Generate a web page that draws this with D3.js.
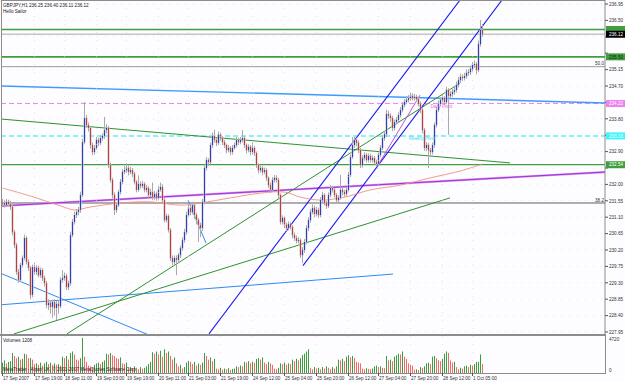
<!DOCTYPE html>
<html>
<head>
<meta charset="utf-8">
<script src="https://cdnjs.cloudflare.com/ajax/libs/d3/7.8.5/d3.min.js"></script>
<style>
  body { margin: 0; background: #fff; }
  svg { display: block; }
  text { font-family: 'Liberation Sans', Arial, sans-serif; }
</style>
</head>
<body>
<svg id="chart" width="625" height="382"></svg>
<script>
// GBPJPY H1, 17 Sep 2007 .. 1 Oct 2007
const firstOpen = 231.50;
const closes = [
  231.49,231.43,231.52,231.46,231.38,230.69,230.34,229.60,229.38,229.79,
  229.98,230.53,229.87,229.71,228.97,229.73,229.60,229.71,229.51,229.65,
  229.43,229.29,228.69,228.75,228.64,228.77,228.61,228.72,228.66,229.38,
  229.43,229.49,229.18,229.29,230.61,230.97,231.16,231.24,231.30,231.71,
  233.16,233.82,233.63,233.55,233.08,232.89,233.00,233.22,233.14,233.27,
  233.33,233.49,233.55,232.53,232.12,231.71,231.30,231.43,231.79,232.07,
  232.34,232.39,232.45,232.34,232.39,232.29,232.07,231.85,232.01,231.96,
  232.01,231.85,231.90,231.71,231.79,231.65,231.74,231.63,231.85,231.93,
  231.57,231.02,231.13,230.75,229.98,229.87,229.98,229.93,230.06,230.25,
  230.47,230.69,231.16,231.35,231.24,231.43,231.16,231.02,230.89,230.80,
  231.52,232.45,232.67,232.61,233.08,233.33,233.22,233.14,233.36,233.27,
  233.16,233.08,232.94,233.00,232.89,233.00,233.08,233.22,233.16,233.22,
  233.27,233.08,232.94,233.03,232.89,233.00,232.86,232.53,232.39,232.45,
  232.34,232.39,232.18,231.98,231.85,232.12,232.18,232.12,231.71,230.97,
  231.08,230.89,230.80,230.91,230.83,230.61,230.53,230.45,230.47,230.06,
  230.20,230.42,230.80,231.02,231.24,231.35,231.19,231.30,231.16,231.57,
  231.71,231.49,231.41,231.71,231.90,231.85,231.71,231.57,231.63,231.85,
  231.79,231.74,231.85,232.26,232.75,233.08,233.22,233.14,232.94,232.53,
  232.72,232.81,232.67,232.78,232.67,232.72,232.61,232.56,232.81,233.00,
  233.27,233.38,233.93,233.88,233.82,233.55,233.71,233.77,233.90,234.04,
  234.18,234.26,234.32,234.37,234.43,234.37,234.40,234.34,234.21,234.04,
  233.49,233.00,233.08,232.94,232.89,233.08,233.63,234.04,234.21,234.32,
  234.37,234.26,234.59,234.43,234.48,234.54,234.59,234.73,234.86,234.95,
  234.92,234.97,235.06,235.08,235.17,235.28,235.30,235.14,235.85,236.24,
  236.12
];
const highs = [
  231.60,231.56,231.60,231.58,231.55,231.45,230.75,230.40,229.68,229.85,
  230.05,230.62,230.58,229.95,229.76,229.80,229.85,229.78,229.77,229.72,
  229.70,229.50,229.35,228.85,228.82,228.84,228.85,228.80,228.80,229.45,
  229.65,229.58,229.55,229.36,230.70,231.05,231.25,231.32,231.38,231.80,
  233.25,234.26,233.90,233.70,233.60,233.15,233.08,233.30,233.28,233.35,
  233.40,233.85,233.65,233.60,232.60,232.18,231.78,231.50,231.85,232.15,
  232.42,232.50,232.58,232.52,232.48,232.45,232.35,232.12,232.25,232.08,
  232.10,232.06,231.98,231.95,231.88,232.05,231.82,231.80,231.95,232.05,
  232.00,231.62,231.20,231.18,230.80,230.05,230.05,230.05,230.12,230.32,
  230.55,230.78,231.25,231.45,231.42,231.52,231.48,231.22,231.08,230.95,
  231.60,232.52,232.75,232.72,233.15,233.42,233.50,233.28,233.45,233.42,
  233.32,233.22,233.12,233.08,233.05,233.08,233.15,233.30,233.28,233.30,
  233.49,233.32,233.12,233.10,233.08,233.15,233.05,232.90,232.58,232.52,
  232.50,232.46,232.44,232.22,232.05,232.20,232.26,232.25,232.18,231.75,
  231.15,231.12,230.95,230.98,230.96,230.88,230.68,230.60,230.55,230.52,
  230.28,230.50,230.88,231.10,231.32,231.45,231.42,231.38,231.36,231.65,
  231.80,231.76,231.55,231.78,231.98,231.96,231.90,231.76,231.70,232.26,
  231.92,231.85,231.92,232.34,232.82,233.30,233.30,233.28,233.20,233.00,
  232.80,232.88,232.86,232.85,232.84,232.80,232.78,232.68,232.88,233.08,
  233.35,233.46,234.05,234.02,233.95,233.88,233.78,233.85,233.98,234.12,
  234.26,234.34,234.42,234.45,234.52,234.50,234.48,234.46,234.40,234.28,
  234.10,233.55,233.16,233.14,233.00,233.15,233.70,234.12,234.30,234.40,
  234.45,234.42,234.68,234.64,234.56,234.62,234.68,234.82,234.95,235.04,
  235.02,235.06,235.15,235.16,235.26,235.36,235.40,235.36,235.95,236.51,
  236.40
];
const lows = [
  231.40,231.36,231.38,231.40,231.30,230.60,230.25,229.52,229.30,229.32,
  229.72,229.92,229.80,229.62,228.85,228.90,229.52,229.52,229.45,229.44,
  229.35,229.20,228.60,228.55,228.45,228.33,228.40,228.28,228.45,228.60,
  229.30,229.35,229.10,229.10,229.22,230.55,230.90,231.08,231.15,231.22,
  231.65,233.10,233.55,233.45,232.98,232.80,232.82,232.95,233.05,233.08,
  233.20,233.25,233.40,232.45,232.05,231.62,231.16,231.22,231.38,231.72,
  232.00,232.28,232.32,232.25,232.28,232.20,232.00,231.78,231.80,231.88,
  231.90,231.78,231.78,231.62,231.65,231.58,231.58,231.55,231.58,231.80,
  231.50,230.95,230.96,230.68,229.90,229.78,229.80,229.51,229.85,229.98,
  230.18,230.40,230.62,231.10,231.15,231.18,231.05,230.90,230.42,230.55,
  230.72,231.45,232.38,232.50,232.55,233.00,233.15,233.05,233.08,233.20,
  233.08,233.00,232.85,232.88,232.80,232.82,232.95,233.02,233.08,233.10,
  233.15,233.00,232.85,232.88,232.80,232.82,232.78,232.45,232.30,232.32,
  232.25,232.28,232.10,231.90,231.76,231.80,232.05,232.05,231.62,230.90,
  230.90,230.80,230.72,230.74,230.76,230.52,230.45,230.38,230.38,229.98,
  229.84,230.12,230.35,230.72,230.95,231.18,231.10,231.12,231.08,231.10,
  231.50,231.42,231.33,231.35,231.65,231.78,231.64,231.48,231.50,231.58,
  231.70,231.66,231.68,231.80,232.20,232.70,233.00,233.05,232.86,232.45,
  232.46,232.65,232.60,232.60,232.60,232.60,232.54,232.48,232.50,232.75,
  232.94,233.20,233.30,233.80,233.72,233.46,233.48,233.64,233.70,233.84,
  233.98,234.12,234.20,234.25,234.30,234.30,234.30,234.26,234.14,233.96,
  233.40,232.92,232.92,232.45,232.80,232.82,233.00,233.56,233.98,234.14,
  234.25,234.18,234.20,233.36,234.36,234.40,234.46,234.52,234.66,234.78,
  234.84,234.85,234.90,234.98,235.00,235.10,235.20,235.02,235.08,235.78,
  236.05
];
const volumes = [
  1400,1700,1300,1500,1600,2700,2300,2000,2200,1800,
  1900,2600,2500,2000,2000,1800,1200,1300,1100,1400,
  1000,1300,1500,1200,1400,1100,1300,1100,1200,1000,
  2200,2000,2300,1800,2700,2900,2500,1800,1700,2000,
  4720,2200,1500,1000,900,700,1100,1300,1400,1200,
  1500,1700,2600,2500,2700,2400,2300,2000,1900,2100,
  1300,1200,1400,700,800,600,900,700,500,800,
  600,700,900,1200,1500,2800,2600,2900,2500,3000,
  2200,3200,2700,2900,2300,1800,2100,1300,900,1100,
  600,800,1400,1600,1500,1200,1500,1000,1300,1100,
  1400,2700,2300,1800,2100,1600,1900,600,500,700,
  450,600,500,650,400,550,600,900,800,1000,
  900,1500,1400,1600,1300,1500,1400,1900,2000,1800,
  2100,1400,1200,1500,1300,1100,600,500,700,1300,
  1200,1400,1100,1300,1200,1800,1600,1900,1700,2000,
  2400,2600,2900,3200,700,500,800,600,700,500,
  800,600,900,700,500,800,600,900,1800,1700,
  1900,1600,2200,2400,2100,2300,2000,1500,1400,1300,
  600,500,650,550,500,600,900,1000,800,900,
  700,650,2300,1700,1800,1600,2200,2400,2600,2500,
  2900,2200,1900,1300,1100,1000,450,500,400,800,
  700,900,1300,1400,1200,2200,2300,2000,1700,1600,
  1900,2600,2900,2700,1700,1400,1500,800,500,700,
  600,900,1000,800,1100,1000,1200,1500,1500,2500,
  1208
];

// moving average as read at a few bars
const maBars   = [0, 14, 29, 36, 44, 59, 74, 89, 99, 114, 129, 141, 149, 159, 171, 184, 199, 214, 229, 240];
const maValues = [231.90,231.68,231.41,231.30,231.38,231.49,231.52,231.43,231.49,231.63,231.76,231.79,231.65,231.57,231.65,231.85,231.98,232.18,232.37,232.56];

const priceTicks = [236.95,236.50,236.05,235.60,235.15,234.70,234.25,233.80,233.35,232.90,232.45,232.00,231.55,231.10,230.65,230.20,229.75,229.30,228.85,228.40,227.95];
const timeTickBars = [0, 16, 31, 47, 62, 78, 93, 109, 125, 141, 157, 173, 188, 204, 220, 235];
const timeTickLabels = ['17 Sep 2007','17 Sep 19:00','18 Sep 11:00','19 Sep 03:00','19 Sep 19:00','20 Sep 11:00','21 Sep 03:00','21 Sep 19:00','24 Sep 12:00','25 Sep 04:00','25 Sep 20:00','26 Sep 12:00','27 Sep 04:00','27 Sep 20:00','28 Sep 12:00','1 Oct 05:00'];

// horizontal levels: support/resistance, bid, fibo, pivots
const levelNames  = ['res1', 'bid', 'res2', 'fib50', 'dailyPivot', 'weeklyPivot', 'sup1', 'fib382'];
const levelPrices = [236.25, 236.12, 235.50, 235.23, 234.22, 233.33, 232.54, 231.49];

// trendlines: [bar1, price1, bar2, price2]
const lineTopBlue    = [0, 234.70, 240, 234.33];
const lineTopGreen   = [0, 233.79, 253.75, 232.59];
const linePurple     = [0, 231.41, 240, 232.15];
const lineBlueDown   = [0, 229.54, 71.75, 227.90];
const lineBlueUp     = [0, 228.70, 195.25, 229.54];
const lineBlueShort  = [92.75, 231.57, 101.75, 230.39];
const lineGreenLow   = [5.75, 227.90, 223.75, 231.63];
const lineGreenSteep = [32.25, 227.90, 228.75, 234.78];
const lineChannelA   = [103.25, 227.90, 228.75, 237.06];
const lineChannelB   = [150.25, 229.77, 249.75, 237.06];
const lineMagenta    = [187.25, 232.48, 208.75, 234.45];

const headerText = 'GBPJPY,H1  236.25 236.40 236.11 236.12';
const volumeText = 'Volumes 1208';

// ---------------------------------------------------------------
const W = 625, H = 382;
const paneR = 605, mainB = 334, volT = 336, volB = 373;
const svg = d3.select('#chart');

svg.append('rect').attr('width', W).attr('height', H).attr('fill', '#fdfcfe');

const x = d3.scaleLinear().domain([0, 240]).range([2.5, 482.5]);
const y = d3.scaleLinear().domain([227.95, 236.95]).range([332, 4]);
const yv = d3.scaleLinear().domain([0, 4720]).range([volB, 338]);

const defs = svg.append('defs');
defs.append('clipPath').attr('id', 'mainClip')
  .append('rect').attr('x', 1).attr('y', 0).attr('width', paneR - 1).attr('height', mainB);

const main = svg.append('g').attr('clip-path', 'url(#mainClip)');

// dotted grid
main.append('g').selectAll('line').data(priceTicks).join('line')
  .attr('x1', 1).attr('x2', paneR).attr('y1', d => y(d)).attr('y2', d => y(d))
  .attr('stroke', '#d6d2e0').attr('stroke-width', 0.6).attr('stroke-dasharray', '1,7');
svg.append('g').selectAll('line').data(timeTickBars.slice(1)).join('line')
  .attr('x1', d => x(d)).attr('x2', d => x(d)).attr('y1', 0).attr('y2', volB)
  .attr('stroke', '#d6d2e0').attr('stroke-width', 0.6).attr('stroke-dasharray', '1,7');

// horizontal levels
const levelStyle = {
  res1:        { c: '#3f9e3f', w: 1.6 },
  bid:         { c: '#c4c4c4', w: 1.4 },
  res2:        { c: '#3f9e3f', w: 1.6 },
  fib50:       { c: '#9a9a9a', w: 1 },
  dailyPivot:  { c: '#ee88ee', w: 1, dash: '5,3' },
  weeklyPivot: { c: '#66f0f4', w: 1.4, dash: '5,3' },
  sup1:        { c: '#3f9e3f', w: 1.2 },
  fib382:      { c: '#606060', w: 1 }
};
levelNames.forEach((n, i) => {
  const s = levelStyle[n];
  main.append('line')
    .attr('x1', 1).attr('x2', paneR)
    .attr('y1', y(levelPrices[i])).attr('y2', y(levelPrices[i]))
    .attr('stroke', s.c).attr('stroke-width', s.w)
    .attr('stroke-dasharray', s.dash || null);
});

function drawLine(l, color, width, extL, extR) {
  let x1 = x(l[0]), y1 = y(l[1]), x2 = x(l[2]), y2 = y(l[3]);
  const k = (y2 - y1) / (x2 - x1);
  if (extL) { y1 = y1 + k * (-20 - x1); x1 = -20; }
  if (extR) { y2 = y2 + k * (720 - x2); x2 = 720; }
  main.append('line')
    .attr('x1', x1).attr('y1', y1).attr('x2', x2).attr('y2', y2)
    .attr('stroke', color).attr('stroke-width', width);
}

drawLine(lineTopBlue, '#3d9bff', 1.4, true, true);
drawLine(lineTopGreen, '#2f922f', 1, true, false);
drawLine(linePurple, '#e08ae8', 2.2, true, true);
drawLine(linePurple, '#8a2be2', 0.9, true, true);
drawLine(lineBlueDown, '#2d8cf0', 1, true, true);
drawLine(lineBlueUp, '#2d8cf0', 1, true, false);
drawLine(lineBlueShort, '#2d8cf0', 1, false, false);
drawLine(lineGreenLow, '#2f922f', 1, false, false);
drawLine(lineGreenSteep, '#2f922f', 1, false, false);
drawLine(lineChannelA, '#1a1aee', 1.1, false, true);
drawLine(lineChannelB, '#1a1aee', 1.1, false, true);
drawLine(lineMagenta, '#c040c8', 0.9, false, false);

// moving average
main.append('path')
  .datum(maBars.map((b, i) => [b, maValues[i]]))
  .attr('fill', 'none').attr('stroke', '#f09080').attr('stroke-width', 0.9)
  .attr('d', d3.line().x(d => x(d[0])).y(d => y(d[1])).curve(d3.curveCatmullRom));

// candles
const bars = closes.map((c, i) => {
  const o = i === 0 ? firstOpen : closes[i - 1];
  return { i, o, c, h: Math.max(highs[i], o, c), l: Math.min(lows[i], o, c) };
});
const cg = main.append('g');
cg.selectAll('.wick').data(bars).join('line')
  .attr('x1', d => x(d.i)).attr('x2', d => x(d.i))
  .attr('y1', d => y(d.h)).attr('y2', d => y(d.l))
  .attr('stroke', '#a9a9a9').attr('stroke-width', 1);
cg.selectAll('.halo').data(bars).join('rect')
  .attr('x', d => x(d.i) - 1.5).attr('width', 3)
  .attr('y', d => y(Math.max(d.o, d.c)) - 0.5)
  .attr('height', d => Math.abs(y(d.o) - y(d.c)) + 1)
  .attr('fill', '#c8c8c8').attr('opacity', 0.55);
cg.selectAll('.body').data(bars).join('rect')
  .attr('x', d => x(d.i) - 0.5).attr('width', 1)
  .attr('y', d => y(Math.max(d.o, d.c)))
  .attr('height', d => Math.max(1, Math.abs(y(d.o) - y(d.c))))
  .attr('fill', d => d.c >= d.o ? '#2c3cc4' : '#c23a3a');

// level texts
const small = 4.6;
main.append('text').attr('x', 604).attr('y', y(levelPrices[3]) - 1.2)
  .attr('text-anchor', 'end').attr('font-size', small).attr('fill', '#333').text('50.0');
main.append('text').attr('x', 604).attr('y', y(levelPrices[7]) - 1.2)
  .attr('text-anchor', 'end').attr('font-size', small).attr('fill', '#333').text('38.2');
main.append('text').attr('x', x(214)).attr('y', y(levelPrices[4]) + 5)
  .attr('font-size', small).attr('fill', '#e070e0').text('Daily Pivot');
main.append('text').attr('x', x(203)).attr('y', y(levelPrices[5]) + 4.5)
  .attr('font-size', small).attr('fill', '#40e0e8').text('Weekly Pivot');

// pane frames
svg.append('rect').attr('x', 1.5).attr('y', 0.5).attr('width', paneR - 1.5).attr('height', mainB)
  .attr('fill', 'none').attr('stroke', '#8c8c8c').attr('stroke-width', 1);
svg.append('rect').attr('x', 0).attr('y', mainB).attr('width', paneR + 1).attr('height', 2).attr('fill', '#8c8c8c');
svg.append('line').attr('x1', 1.5).attr('x2', 1.5).attr('y1', volT).attr('y2', volB).attr('stroke', '#8c8c8c');
svg.append('line').attr('x1', paneR + 0.5).attr('x2', paneR + 0.5).attr('y1', volT).attr('y2', volB).attr('stroke', '#8c8c8c');
svg.append('line').attr('x1', 1).attr('x2', paneR + 1).attr('y1', volB + 0.5).attr('y2', volB + 0.5).attr('stroke', '#8c8c8c');

// header
svg.append('text').attr('x', 3).attr('y', 6.5).attr('font-size', small).attr('fill', '#222').text(headerText);
svg.append('text').attr('x', 3).attr('y', 12.5).attr('font-size', small).attr('fill', '#222').text('Hello Sailor');

// coloured price labels (they cover the axis labels underneath)
const tagStyle = {
  res1: { bg: '#3f9e3f', fg: '#102010' },
  bid: { bg: '#000', fg: '#fff' },
  res2: { bg: '#3f9e3f', fg: '#102010' },
  dailyPivot: { bg: '#ee82ee', fg: '#fff' },
  weeklyPivot: { bg: '#40f4f8', fg: '#fff' },
  sup1: { bg: '#3f9e3f', fg: '#fff' }
};
const tagPrices = levelPrices.filter((p, i) => tagStyle[levelNames[i]]);
const freeTicks = priceTicks.filter(t => tagPrices.every(p => Math.abs(y(p) - y(t)) > 6));

// price axis
const pa = svg.append('g');
pa.selectAll('line').data(priceTicks).join('line')
  .attr('x1', paneR).attr('x2', paneR + 3).attr('y1', d => y(d)).attr('y2', d => y(d))
  .attr('stroke', '#555');
pa.selectAll('text').data(freeTicks).join('text')
  .attr('x', paneR + 4).attr('y', d => y(d) + 1.7)
  .attr('font-size', small).attr('fill', '#333').text(d => d.toFixed(2));

levelNames.forEach((n, i) => {
  const s = tagStyle[n];
  if (!s) return;
  const yy = y(levelPrices[i]);
  svg.append('rect').attr('x', paneR + 1).attr('y', yy - 3.5).attr('width', W - paneR - 1).attr('height', 7).attr('fill', s.bg);
  if (n === 'res1') return; // its text is hidden under the bid tag
  svg.append('text').attr('x', paneR + 4).attr('y', yy + 1.7).attr('font-size', small).attr('fill', s.fg)
    .text(levelPrices[i].toFixed(2));
});

// volumes
const vg = svg.append('g');
vg.selectAll('rect').data(volumes).join('rect')
  .attr('x', (d, i) => x(i) - 0.5).attr('width', 1)
  .attr('y', d => yv(d)).attr('height', d => volB - yv(d))
  .attr('fill', (d, i) => i > 0 && d < volumes[i - 1] ? '#f06a6a' : '#3d9d3d');
svg.append('text').attr('x', 3).attr('y', 342).attr('font-size', small).attr('fill', '#222').text(volumeText);
svg.append('text').attr('x', 3).attr('y', 371).attr('font-size', small).attr('fill', '#222')
  .text('MetaTrader - Alpari UK, \u00a9 2001-2007 MetaQuotes Software Corp.');
svg.append('text').attr('x', paneR + 4).attr('y', 341).attr('font-size', small).attr('fill', '#333').text('4720');
svg.append('text').attr('x', paneR + 4).attr('y', 372).attr('font-size', small).attr('fill', '#333').text('0');

// time axis
const ta = svg.append('g');
ta.selectAll('line').data(timeTickBars).join('line')
  .attr('x1', d => x(d)).attr('x2', d => x(d)).attr('y1', volB).attr('y2', volB + 3)
  .attr('stroke', '#555');
ta.selectAll('text').data(timeTickBars).join('text')
  .attr('x', d => x(d) + 0.5).attr('y', 379.5)
  .attr('font-size', small).attr('fill', '#333')
  .text((d, i) => timeTickLabels[i]);
</script>
</body>
</html>
